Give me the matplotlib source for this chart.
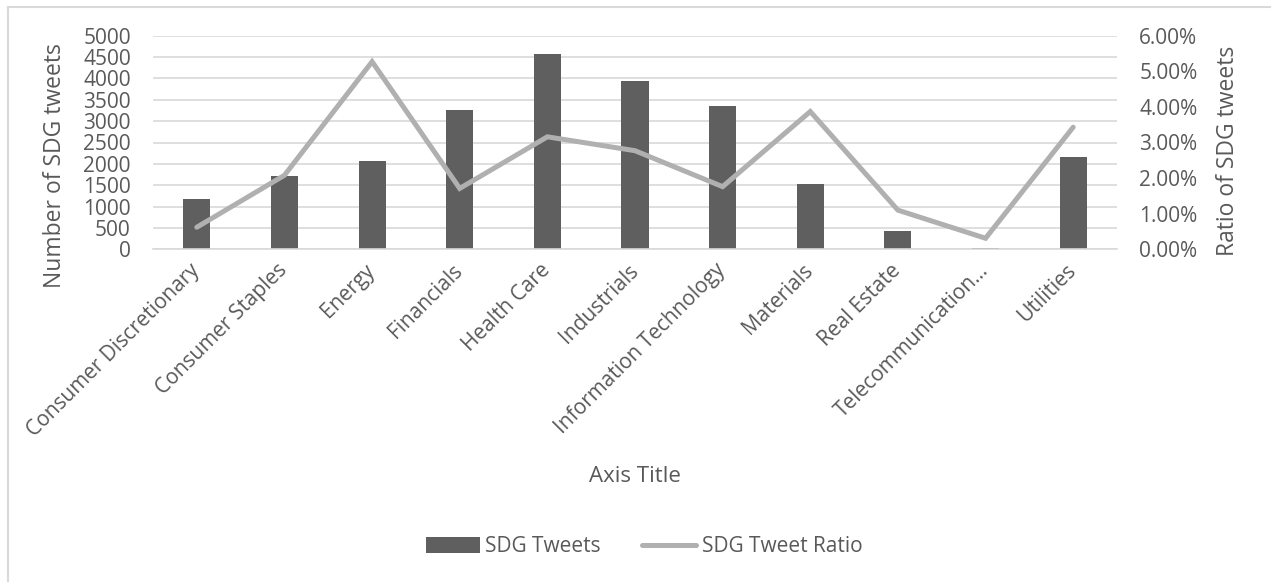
import matplotlib.pyplot as plt
from matplotlib.lines import Line2D
from matplotlib.ticker import FuncFormatter, MultipleLocator

plt.rcParams['font.family'] = ['Open Sans', 'DejaVu Sans']

sectors = ['Consumer Discretionary', 'Consumer Staples', 'Energy', 'Financials',
           'Health Care', 'Industrials', 'Information Technology', 'Materials',
           'Real Estate', 'Telecommunication...', 'Utilities']
sdg_tweets = [1185, 1710, 2075, 3255, 4565, 3940, 3360, 1530, 435, 20, 2170]
sdg_ratio = [0.62, 2.08, 5.27, 1.71, 3.16, 2.77, 1.76, 3.87, 1.10, 0.31, 3.43]  # percent

BAR_COL = '#5f5f5f'
LINE_COL = '#b0b0b0'
TXT = '#595959'
GRID = '#d9d9d9'

fig = plt.figure(figsize=(12.71, 5.82), dpi=100)
ax = fig.add_axes([153 / 1271, 1 - 249.3 / 582, 964 / 1271, 213.6 / 582])
ax2 = ax.twinx()

x = list(range(len(sectors)))
bars = ax.bar(x, sdg_tweets, width=0.31, color=BAR_COL, zorder=2, label='SDG Tweets')
ln, = ax2.plot(x, sdg_ratio, color=LINE_COL, lw=3.6, solid_capstyle='round',
               solid_joinstyle='miter', label='SDG Tweet Ratio', zorder=3)

ax.set_xlim(-0.5, len(sectors) - 0.5)
ax.set_ylim(0, 5000)
ax.yaxis.set_major_locator(MultipleLocator(500))
ax2.set_ylim(0, 6)
ax2.yaxis.set_major_locator(MultipleLocator(1))
ax2.yaxis.set_major_formatter(FuncFormatter(lambda v, p: '%.2f%%' % v))

ax.grid(axis='y', color=GRID, lw=1.2, zorder=0)
ax.set_axisbelow(True)
for a in (ax, ax2):
    for s in a.spines.values():
        s.set_visible(False)
    a.tick_params(length=0, labelsize=15, labelcolor=TXT)
ax.spines['bottom'].set_visible(True)
ax.spines['bottom'].set_color(GRID)
ax.spines['bottom'].set_linewidth(1.2)
ax.tick_params(axis='y', pad=16)
ax2.tick_params(axis='y', pad=16)

ax.set_xticks(x)
ax.set_xticklabels(sectors, rotation=45, ha='right', va='center',
                   rotation_mode='anchor')
ax.tick_params(axis='x', pad=13)

ax.set_ylabel('Number of SDG tweets', fontsize=16.5, color=TXT)
ax.yaxis.set_label_coords(-0.089, 0.39)
ax2.set_ylabel('Ratio of SDG tweets', fontsize=16.5, color=TXT)
ax2.yaxis.set_label_coords(1.103, 0.46)

fig.text(635 / 1271, 1 - 476.7 / 582, 'Axis Title', fontsize=16, color=TXT,
         ha='center', va='center')

fig.legend(handles=[bars, ln], loc='center', bbox_to_anchor=(644 / 1271, 1 - 547 / 582),
           ncol=2, frameon=False, fontsize=15, labelcolor=TXT, handlelength=2.6,
           handleheight=0.8, columnspacing=2.0, handletextpad=0.25)

# chart area border
fig.add_artist(Line2D([7.5 / 1271, 7.5 / 1271], [0, 1 - 6.5 / 582],
                      transform=fig.transFigure, color=GRID, lw=1.5))
fig.add_artist(Line2D([7.5 / 1271, 1], [1 - 6.5 / 582, 1 - 6.5 / 582],
                      transform=fig.transFigure, color=GRID, lw=1.5))

fig.savefig('out.png', dpi=100, facecolor='white')
